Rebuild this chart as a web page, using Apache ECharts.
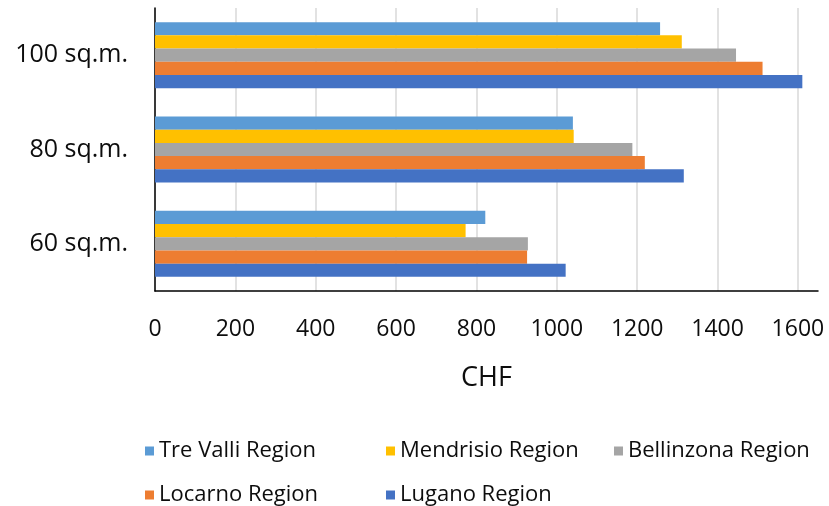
<!DOCTYPE html>
<html><head><meta charset="utf-8">
<script src="https://cdn.jsdelivr.net/npm/echarts@6/dist/echarts.min.js"></script>
<style>html,body{margin:0;padding:0;background:#fff}#c{width:829px;height:506px}</style>
</head><body><div id="c"></div>
<script>
const categories = ['60 sq.m.', '80 sq.m.', '100 sq.m.'];
const seriesNames = ['Tre Valli Region', 'Mendrisio Region', 'Bellinzona Region', 'Locarno Region', 'Lugano Region'];
const treValli = [822, 1040, 1257];
const mendrisio = [773, 1042, 1311];
const bellinzona = [928, 1188, 1446];
const locarno = [926, 1219, 1512];
const lugano = [1022, 1316, 1611];
const xTicks = [0, 200, 400, 600, 800, 1000, 1200, 1400, 1600];
const colors = ['#5B9BD5', '#FFC000', '#A5A5A5', '#ED7D31', '#4472C4'];
const values = [treValli, mendrisio, bellinzona, locarno, lugano];

const font = '"Open Sans"';
const legendPos = [[140, 435], [381, 435], [609, 435], [140, 479], [381, 479]];
const legends = seriesNames.map((n, i) => ({
  data: [n], left: legendPos[i][0], top: legendPos[i][1],
  itemWidth: 9, itemHeight: 9, itemGap: 6, icon: 'rect',
  textStyle: { fontFamily: font, fontSize: 22, color: '#0d0d0d', padding: [0,0,0,0] },
  selectedMode: false
}));

const chart = echarts.init(document.getElementById('c'), null, { renderer: 'canvas' });
chart.setOption({
  animation: false,
  color: colors,
  grid: { left: 155, right: 11, top: 8, bottom: 215, containLabel: false },
  legend: legends,
  xAxis: {
    type: 'value', min: 0, max: 1650, interval: 200,
    name: 'CHF', nameLocation: 'middle', nameGap: 74,
    nameTextStyle: { fontFamily: font, fontSize: 27, color: '#0d0d0d' },
    axisLine: { show: true, lineStyle: { color: '#000', width: 1.5 } },
    axisTick: { show: false },
    axisLabel: { fontFamily: font, fontSize: 23, color: '#0d0d0d', margin: 27, showMaxLabel: false,
      formatter: v => xTicks.indexOf(v) >= 0 ? String(v) : '' },
    splitLine: { show: true, showMaxLine: false, lineStyle: { color: '#D9D9D9', width: 1.5 } }
  },
  yAxis: {
    type: 'category', data: categories,
    axisLine: { show: true, lineStyle: { color: '#000', width: 1.5 } },
    axisTick: { show: false },
    axisLabel: { fontFamily: font, fontSize: 25, color: '#0d0d0d', margin: 27 }
  },
  series: seriesNames.map((n, i) => ({
    name: n, type: 'bar', data: values[i],
    barGap: '0%', barCategoryGap: '30%',
    itemStyle: { color: colors[i] }
  }))
});
</script></body></html>
